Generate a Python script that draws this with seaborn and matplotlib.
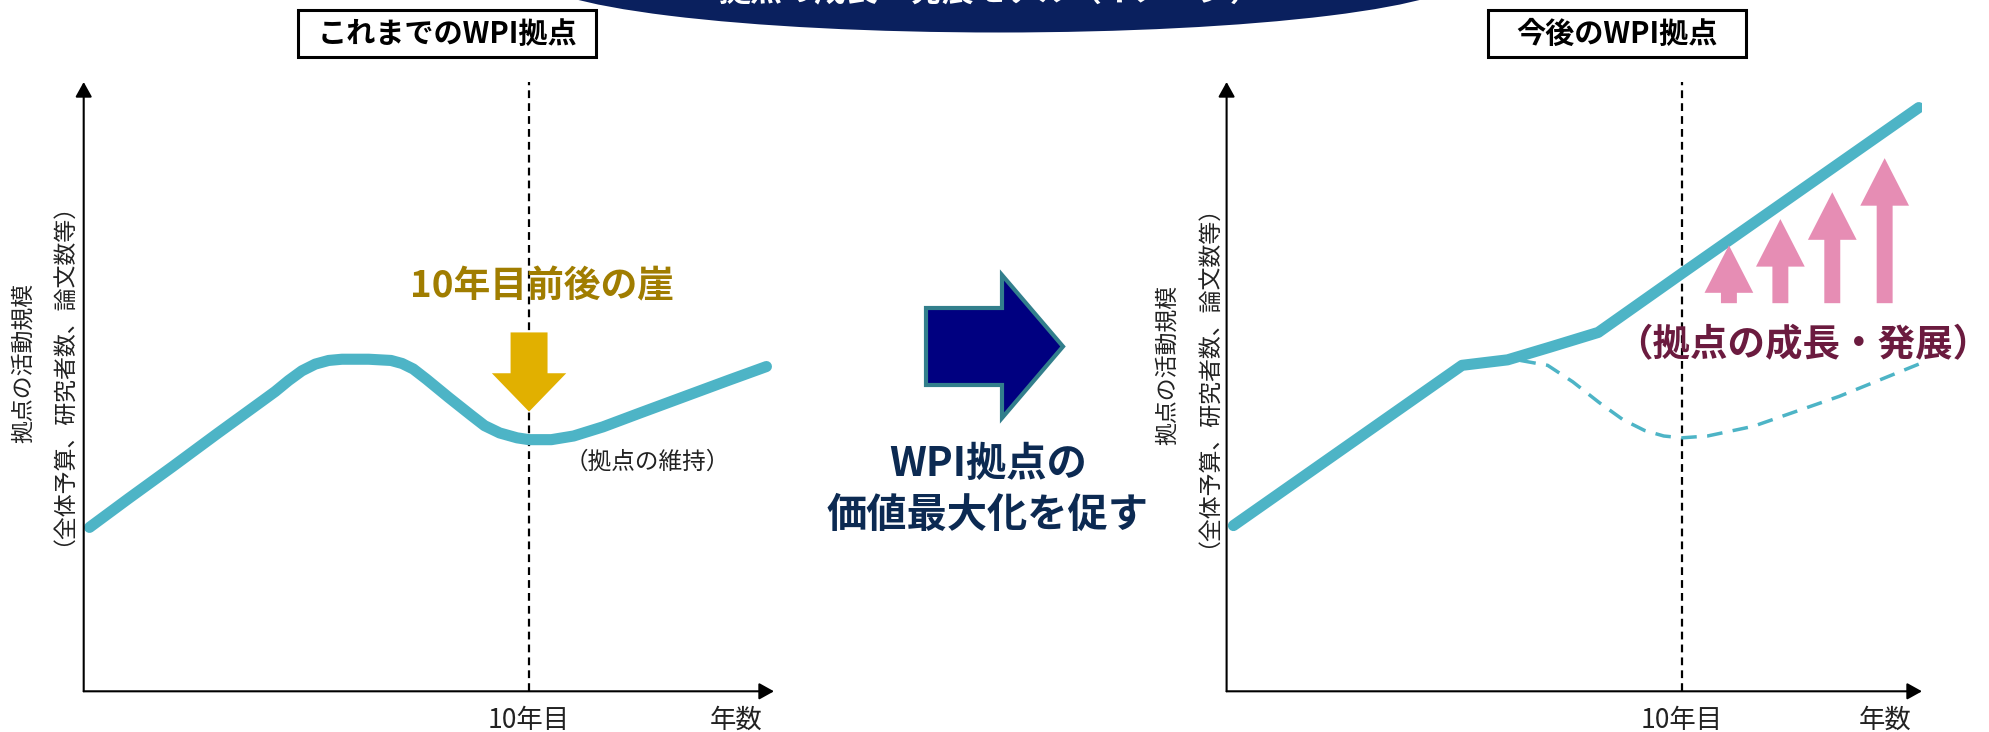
import matplotlib
matplotlib.use('Agg')
import matplotlib.pyplot as plt
import seaborn as sns
from matplotlib.patches import Ellipse, FancyArrow, Rectangle

# ---------------- data ----------------
# years since the start of a WPI centre vs. activity scale (0-100, arbitrary)
past_years = [0.13, 1.0, 2.0, 3.0, 4.0, 4.3, 4.6, 4.9, 5.2, 5.5, 5.8, 6.4, 6.9, 7.15, 7.4,
              7.7, 8.2, 8.7, 9.0, 9.34, 9.73, 10.0, 10.5, 11.0, 11.66, 12.5, 13.5, 14.5, 15.33]
past_activity = [26.9, 31.6, 36.9, 42.3, 47.6, 49.2, 51.0, 52.6, 53.7, 54.3, 54.5, 54.5, 54.3,
                 53.8, 52.9, 51.2, 48.2, 45.3, 43.6, 42.4, 41.6, 41.3, 41.3, 41.9, 43.4,
                 45.7, 48.4, 51.1, 53.3]

future_years = [0.15, 5.17, 6.17, 7.11, 8.16, 10.0, 15.2]
future_activity = [27.2, 53.5, 54.4, 56.5, 58.9, 68.6, 95.8]

maintain_years = [6.45, 7.05, 7.6, 8.18, 8.7, 9.18, 9.6, 10.0, 10.56, 11.57, 13.45, 15.2]
maintain_activity = [54.3, 53.5, 50.8, 47.4, 44.6, 42.8, 41.9, 41.6, 41.9, 43.5, 48.4, 53.7]

growth_arrow_years = [11.03, 12.16, 13.3, 14.45]
growth_arrow_base = [63.7, 63.7, 63.7, 63.7]
growth_arrow_tops = [73.2, 77.5, 81.9, 87.5]

cliff_year = 10
cliff_arrow_top = 58.9
cliff_arrow_tip = 45.9

tick_positions_left = [10, 14.66]
tick_positions_right = [10, 14.45]
tick_labels = ['10年目', '年数']
y_label_lines = ['拠点の活動規模', '（全体予算、研究者数、論文数等）']
panel_titles = ['これまでのWPI拠点', '今後のWPI拠点']
banner_title = '拠点の成長・発展モデル（イメージ）'
middle_text = ['WPI拠点の', '価値最大化を促す']

# ---------------- style ----------------
sns.set_theme(style='white')
plt.rcParams['font.family'] = ['Noto Sans CJK JP', 'DejaVu Sans']

TEAL = '#4DB4C6'
PINK = '#E68DB4'
GOLD = '#E1B000'
GOLD_TEXT = '#A07D00'
WINE = '#6B1B3F'
NAVY_TEXT = '#0C2A52'

W, H = 1989, 732
fig = plt.figure(figsize=(W / 100, H / 100), dpi=100)

# overlay axes in pixel coordinates for decorations
bg = fig.add_axes([0, 0, 1, 1])
bg.set_xlim(0, W)
bg.set_ylim(H, 0)
bg.axis('off')

# banner ellipse (cut by the top edge, as in the original)
bg.add_patch(Ellipse((999, -25), 934, 115, facecolor='#0A205E', edgecolor='none'))
bg.text(990, -8, banner_title, color='white', fontsize=23, fontweight='bold',
        ha='center', va='center')

# title boxes
for (x0, w), t in zip([(298, 298), (1488, 258)], panel_titles):
    bg.add_patch(Rectangle((x0, 10), w, 47, facecolor='white', edgecolor='black', lw=2.2))
    bg.text(x0 + w / 2, 34, t, fontsize=21, fontweight='bold', ha='center', va='center',
            color='black')

# middle arrow
bg.add_patch(FancyArrow(926, 346.5, 137, 0, width=77, head_width=143, head_length=61,
                        length_includes_head=True, facecolor='#000080',
                        edgecolor='#327F8C', lw=3))
bg.text(988, 464, middle_text[0], fontsize=29, fontweight='bold', color=NAVY_TEXT,
        ha='center', va='center')
bg.text(988, 515, middle_text[1], fontsize=29, fontweight='bold', color=NAVY_TEXT,
        ha='center', va='center')


def px_axes(left, right, top, bottom):
    return fig.add_axes([left / W, 1 - bottom / H, (right - left) / W, (bottom - top) / H])


def setup(ax, xmax, ticks, label_x, label_y):
    ax.set_xlim(0, xmax)
    ax.set_ylim(0, 100)
    ax.set_facecolor('none')
    for s in ax.spines.values():
        s.set_visible(False)
    arrow = dict(arrowstyle='-|>,head_length=0.45,head_width=0.25', lw=1.5,
                 color='black', shrinkA=0, shrinkB=0, mutation_scale=20)
    ax.annotate('', xy=(xmax, 0), xytext=(0, 0), arrowprops=arrow, annotation_clip=False)
    ax.annotate('', xy=(0, 100), xytext=(0, 0), arrowprops=arrow, annotation_clip=False)
    ax.axvline(10, color='black', lw=1.6, ls=(0, (3.5, 2.3)), zorder=1)
    ax.set_xticks(ticks)
    ax.set_xticklabels(tick_labels, fontsize=19, color='#222222')
    ax.tick_params(axis='x', length=0, pad=11)
    ax.set_yticks([])
    ax.set_xlabel('')
    ax.set_ylabel('')
    for lx, line in zip(label_x, y_label_lines):
        ax.text(lx, label_y, line, rotation=90, fontsize=16.5, color='#222222',
                ha='center', va='center', transform=ax.transAxes)
    ax.grid(False)


# ---------------- left panel ----------------
axL = px_axes(83.7, 774, 82, 691.3)
setup(axL, 15.5, tick_positions_left, [-0.0879, -0.0465], 0.539)
sns.lineplot(x=past_years, y=past_activity, ax=axL, color=TEAL, linewidth=8,
             sort=False, estimator=None, legend=False)
axL.lines[-1].set_solid_capstyle('round')
axL.lines[-1].set_solid_joinstyle('round')
axL.add_patch(FancyArrow(cliff_year, cliff_arrow_top, 0, cliff_arrow_tip - cliff_arrow_top,
                         width=0.83, head_width=1.67, head_length=6.3,
                         length_includes_head=True, facecolor=GOLD, edgecolor='none',
                         zorder=5))
axL.text(10.3, 66.3, '10年目前後の崖', fontsize=26.5, fontweight='bold', color=GOLD_TEXT,
         ha='center', va='center')
axL.text(12.65, 37.6, '（拠点の維持）', fontsize=17, color='#222222', ha='center',
         va='center')

# ---------------- right panel ----------------
axR = px_axes(1226.6, 1922, 82, 691.3)
setup(axR, 15.27, tick_positions_right, [-0.0857, -0.044], 0.535)
sns.lineplot(x=maintain_years, y=maintain_activity, ax=axR, color=TEAL, linewidth=2.5,
             linestyle=(0, (4.5, 3)), sort=False, estimator=None, legend=False)
sns.lineplot(x=future_years, y=future_activity, ax=axR, color=TEAL, linewidth=8,
             sort=False, estimator=None, legend=False)
axR.lines[-1].set_solid_capstyle('round')
axR.lines[-1].set_solid_joinstyle('round')
for x, b, t in zip(growth_arrow_years, growth_arrow_base, growth_arrow_tops):
    axR.add_patch(FancyArrow(x, b, 0, t - b, width=0.35, head_width=1.07, head_length=7.8,
                             length_includes_head=True, facecolor=PINK, edgecolor='none',
                             zorder=5))
axR.text(12.65, 56.8, '（拠点の成長・発展）', fontsize=27, fontweight='bold', color=WINE,
         ha='center', va='center', zorder=6)

fig.savefig('out.png', dpi=100)
